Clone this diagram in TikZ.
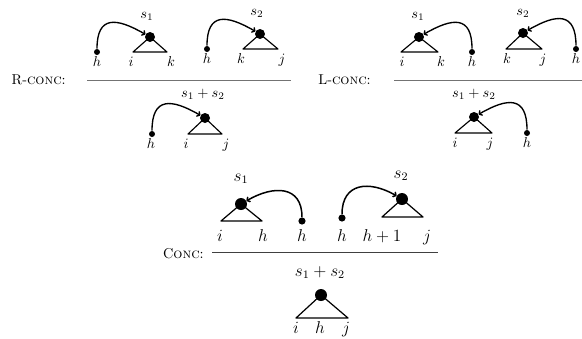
\documentclass[tikz,border=0pt]{standalone}
\usetikzlibrary{arrows.meta}
\begin{document}
\begin{tikzpicture}[x=0.7pt, y=-0.7pt,
  head/.style={circle, fill, inner sep=0pt, minimum size=7pt},
  dep/.style={circle, fill, inner sep=0pt, minimum size=4.2pt},
  lbl/.style={anchor=base, inner sep=0pt},
  tri/.style={line width=0.8pt, line join=round},
  arc/.style={line width=0.95pt, -{To[length=2.5pt,width=4.5pt]}},
  rule/.style={black!55, line width=0.7pt}]
  \useasboundingbox (0,0) rectangle (582,338);

  % R-conc
  \node[lbl, anchor=base east] (rname) at (66,84) {R-\textsc{conc}:};
  \draw[rule] (87,80) -- (291,80);
  % premise 1
  \draw[tri] (150,37) -- (133,52) -- (167,52) -- cycle;
  \node[head] (ra) at (150,37) {};
  \node[dep] (rah) at (97,52) {};
  \draw[arc] (rah) to[out=90, in=150, looseness=1.7] (ra);
  \node[lbl] at (147,18) {$s_1$};
  \node[lbl] (ral1) at (97,66) {$h$};
  \node[lbl] (ral2) at (131,66) {$i$};
  \node[lbl] (ral3) at (171,66) {$k$};
  % premise 2
  \draw[tri] (260,34) -- (243,49) -- (278,49) -- cycle;
  \node[head] (rb) at (260,34) {};
  \node[dep] (rbh) at (207,49) {};
  \draw[arc] (rbh) to[out=90, in=150, looseness=1.7] (rb);
  \node[lbl] at (257,15) {$s_2$};
  \node[lbl] (rbl1) at (207,63) {$h$};
  \node[lbl] (rbl2) at (241,63) {$k$};
  \node[lbl] (rbl3) at (282,63) {$j$};
  % conclusion
  \draw[tri] (205,118) -- (188,134) -- (222,134) -- cycle;
  \node[head] (rc) at (205,118) {};
  \node[dep] (rch) at (152,134) {};
  \draw[arc] (rch) to[out=90, in=150, looseness=1.7] (rc);
  \node[lbl] at (203,97) {$s_1+s_2$};
  \node[lbl] (rcl1) at (151,148) {$h$};
  \node[lbl] (rcl2) at (186,148) {$i$};
  \node[lbl] (rcl3) at (226,148) {$j$};

  % L-conc
  \node[lbl, anchor=base east] (lname) at (371,84) {L-\textsc{conc}:};
  \draw[rule] (394,80) -- (582,80);
  % premise 1
  \draw[tri] (419,37) -- (401,52) -- (438,52) -- cycle;
  \node[head] (la) at (419,37) {};
  \node[dep] (lah) at (472,52) {};
  \draw[arc] (lah) to[out=90, in=30, looseness=1.7] (la);
  \node[lbl] at (418,18) {$s_1$};
  \node[lbl] (lal1) at (402,66) {$i$};
  \node[lbl] (lal2) at (441,66) {$k$};
  \node[lbl] (lal3) at (472,66) {$h$};
  % premise 2
  \draw[tri] (523,33) -- (506,49) -- (542,49) -- cycle;
  \node[head] (lb) at (523,33) {};
  \node[dep] (lbh) at (576,49) {};
  \draw[arc] (lbh) to[out=90, in=30, looseness=1.7] (lb);
  \node[lbl] at (523,15) {$s_2$};
  \node[lbl] (lbl1) at (507,63) {$k$};
  \node[lbl] (lbl2) at (543,63) {$j$};
  \node[lbl] (lbl3) at (576,63) {$h$};
  % conclusion
  \draw[tri] (474,117) -- (455,133) -- (492,133) -- cycle;
  \node[head] (lc) at (474,117) {};
  \node[dep] (lch) at (527,133) {};
  \draw[arc] (lch) to[out=90, in=30, looseness=1.7] (lc);
  \node[lbl] at (474,97) {$s_1+s_2$};
  \node[lbl] (lcl1) at (455,147) {$i$};
  \node[lbl] (lcl2) at (490,147) {$j$};
  \node[lbl] (lcl3) at (527,147) {$h$};

  % Conc, drawn larger
  \begin{scope}[font=\large,
      head/.append style={minimum size=8.4pt},
      dep/.append style={minimum size=5pt},
      tri/.append style={line width=0.85pt},
      arc/.append style={line width=1.05pt},
      rule/.append style={black!75}]
  \node[lbl, anchor=base east, font=\normalsize] (cname) at (204,258) {C\textsc{onc}:};
  \draw[rule] (212,252) -- (438,252);
  % premise 1
  \draw[tri] (241,204) -- (221,221) -- (262,221) -- cycle;
  \node[head] (ca) at (241,204) {};
  \node[dep] (cah) at (302,221) {};
  \draw[arc] (cah) to[out=90, in=30, looseness=1.4] (ca);
  \node[lbl] at (241,181) {$s_1$};
  \node[lbl] (cal1) at (220,241) {$i$};
  \node[lbl] (cal2) at (263,241) {$h$};
  \node[lbl] (cal3) at (302,241) {$h$};
  % premise 2
  \draw[tri] (402,199) -- (382,217) -- (423,217) -- cycle;
  \node[head] (cb) at (402,199) {};
  \node[dep] (cbh) at (342,218) {};
  \draw[arc] (cbh) to[out=90, in=150, looseness=1.4] (cb);
  \node[lbl] at (401,178) {$s_2$};
  \node[lbl] (cbl1) at (342,241) {$h$};
  \node[lbl] (cbl2) at (382,241) {$h+1$};
  \node[lbl] (cbl3) at (427,241) {$j$};
  % conclusion
  \draw[tri] (321,295) -- (296,318) -- (348,318) -- cycle;
  \node[head] (cc) at (321,295) {};
  \node[lbl] at (320,276) {$s_1+s_2$};
  \node[lbl] (ccl1) at (296,333) {$i$};
  \node[lbl] (ccl2) at (320,333) {$h$};
  \node[lbl] (ccl3) at (346,333) {$j$};
  \end{scope}
\end{tikzpicture}
\end{document}
